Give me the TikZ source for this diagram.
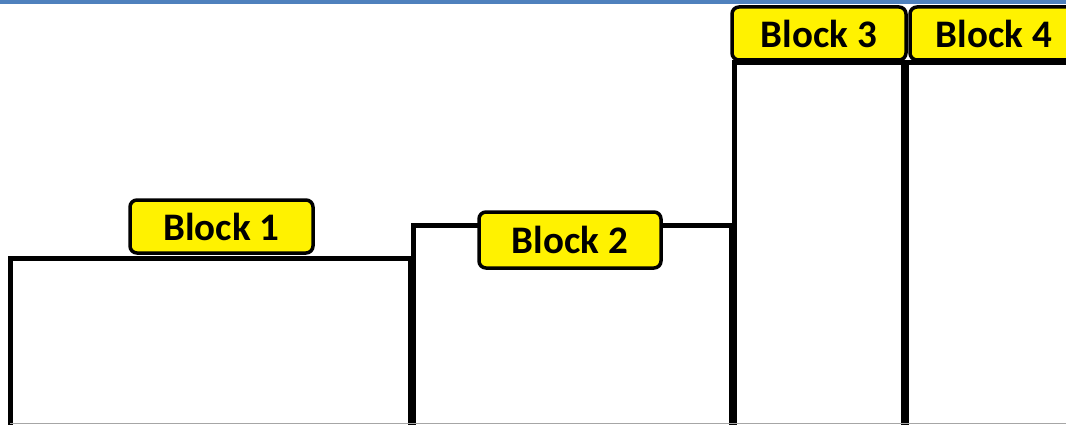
\documentclass[tikz,border=0pt]{standalone}
\usepackage{fontspec}
\setmainfont{Carlito}
\definecolor{barblue}{HTML}{4F81BD}
\begin{document}
\begin{tikzpicture}[x=1pt,y=-1pt,
  blk/.style={draw=black,line width=5pt,fill=white},
  lbl/.style={draw=black,line width=3.5pt,fill=yellow,rounded corners=7pt,
    font=\fontsize{39}{39}\selectfont\bfseries,inner sep=0pt,minimum height=53pt}]
\useasboundingbox (0,0) rectangle (1066,425);
\clip (0,0) rectangle (1066,425);
\fill[white] (0,0) rectangle (1066,425);
\fill[barblue] (0,0) rectangle (1066,4.5);
\draw[blk] (10,258) rectangle (410,440);
\draw[blk] (413,225) rectangle (731,440);
\draw[blk] (734,63) rectangle (903,440);
\draw[blk] (906,63) rectangle (1090,440);
\fill[black] (408,258) rectangle (415,440);
\fill[black] (729,225) rectangle (736,440);
\fill[black] (901,63) rectangle (908,440);
\draw[gray!70,line width=1pt] (10,423) -- (1066,423);
\node[lbl,minimum width=183pt] (b1) at (221.5,226.5) {Block 1};
\node[lbl,minimum width=182pt,minimum height=56pt] (b2) at (570,240) {Block 2};
\node[lbl,minimum width=174pt] (b3) at (819,33.5) {Block 3};
\node[lbl,minimum width=168pt] (b4) at (994,33.5) {Block 4};
\end{tikzpicture}
\end{document}
